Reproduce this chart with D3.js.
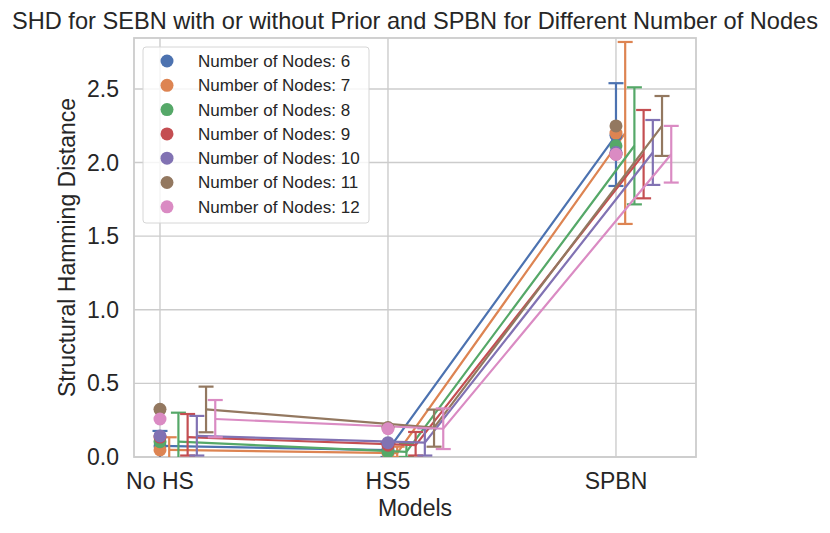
<!DOCTYPE html>
<html>
<head>
<meta charset="utf-8">
<script src="https://cdn.jsdelivr.net/npm/d3@7"></script>
<style>
  body { margin: 0; background: #fff; }
  svg { display: block; font-family: "Liberation Sans", Arial, sans-serif; }
</style>
</head>
<body>
<svg id="chart" width="830" height="533"></svg>
<script>
const categories = ["No HS", "HS5", "SPBN"];
const seriesNames = ["Number of Nodes: 6", "Number of Nodes: 7", "Number of Nodes: 8", "Number of Nodes: 9", "Number of Nodes: 10", "Number of Nodes: 11", "Number of Nodes: 12"];
const colors = ["#4c72b0", "#dd8452", "#55a868", "#c44e52", "#8172b3", "#937860", "#da8bc3"];
// mean SHD per series, per category
const means = [
  [0.075, 0.047, 2.185],
  [0.048, 0.027, 2.200],
  [0.104, 0.035, 2.114],
  [0.135, 0.080, 2.057],
  [0.143, 0.097, 2.068],
  [0.324, 0.200, 2.249],
  [0.258, 0.192, 2.056]
];
const lower = [
  [-0.030, 0.000, 1.841],
  [-0.040, 0.000, 1.583],
  [-0.090, 0.000, 1.716],
  [0.010, 0.010, 1.757],
  [0.010, 0.010, 1.848],
  [0.168, 0.070, 2.045],
  [0.134, 0.054, 1.864]
];
const upper = [
  [0.177, 0.095, 2.539],
  [0.134, 0.070, 2.819],
  [0.301, 0.090, 2.511],
  [0.292, 0.170, 2.357],
  [0.279, 0.195, 2.289],
  [0.478, 0.322, 2.452],
  [0.387, 0.330, 2.249]
];
const yTicks = [0.0, 0.5, 1.0, 1.5, 2.0, 2.5];
const titleText = "SHD for SEBN with or without Prior and SPBN for Different Number of Nodes";
const xLabel = "Models";
const yLabel = "Structural Hamming Distance";

const svg = d3.select("#chart");
const L = 134, R = 696, T = 38, B = 457;
const x = d3.scaleLinear().domain([-0.114, 2.351]).range([L, R]);
const y = d3.scaleLinear().domain([0, 2.846]).range([B, T]);
const dodge = 0.0404; // in category units per series
const textColor = "#262626";
const gridColor = "#cccccc";

svg.append("defs").append("clipPath").attr("id", "clip")
  .append("rect").attr("x", L).attr("y", T).attr("width", R - L).attr("height", B - T);

// grid
const g = svg.append("g");
g.selectAll(".hg").data(yTicks).join("line")
  .attr("x1", L).attr("x2", R).attr("y1", d => y(d)).attr("y2", d => y(d))
  .attr("stroke", gridColor).attr("stroke-width", 1.4);
g.selectAll(".vg").data(categories).join("line")
  .attr("x1", (d, i) => x(i)).attr("x2", (d, i) => x(i)).attr("y1", T).attr("y2", B)
  .attr("stroke", gridColor).attr("stroke-width", 1.4);

// frame
svg.append("rect").attr("x", L).attr("y", T).attr("width", R - L).attr("height", B - T)
  .attr("fill", "none").attr("stroke", gridColor).attr("stroke-width", 1.8);

const plot = svg.append("g").attr("clip-path", "url(#clip)");
const line = d3.line().x(d => x(d.xi)).y(d => y(d.v));
const capW = 7.5;
const lw = 2.2;

seriesNames.forEach((name, s) => {
  const pts = categories.map((c, i) => ({ xi: i + s * dodge, v: means[s][i], lo: lower[s][i], hi: upper[s][i] }));
  plot.append("path").datum(pts).attr("d", line)
    .attr("fill", "none").attr("stroke", colors[s]).attr("stroke-width", lw);
  const eb = plot.append("g");
  eb.selectAll(".v").data(pts).join("line")
    .attr("x1", d => x(d.xi)).attr("x2", d => x(d.xi))
    .attr("y1", d => y(d.lo)).attr("y2", d => y(d.hi))
    .attr("stroke", colors[s]).attr("stroke-width", lw);
  ["lo", "hi"].forEach(k => {
    eb.selectAll(".c" + k).data(pts).join("line")
      .attr("x1", d => x(d.xi) - capW).attr("x2", d => x(d.xi) + capW)
      .attr("y1", d => y(d[k])).attr("y2", d => y(d[k]))
      .attr("stroke", colors[s]).attr("stroke-width", lw);
  });
});

seriesNames.forEach((name, s) => {
  plot.append("g").selectAll("circle").data(categories).join("circle")
    .attr("cx", (d, i) => x(i)).attr("cy", (d, i) => y(means[s][i]))
    .attr("r", 6.5).attr("fill", colors[s]);
});

// axes ticks
svg.append("g").selectAll("text").data(yTicks).join("text")
  .attr("x", L - 15).attr("y", d => y(d)).attr("dy", "0.35em")
  .attr("text-anchor", "end").attr("font-size", 23).attr("fill", textColor)
  .text(d => d.toFixed(1));
svg.append("g").selectAll("text").data(categories).join("text")
  .attr("x", (d, i) => x(i)).attr("y", 489)
  .attr("text-anchor", "middle").attr("font-size", 23).attr("fill", textColor)
  .text(d => d);

svg.append("text").attr("x", (L + R) / 2).attr("y", 516).attr("text-anchor", "middle")
  .attr("font-size", 23).attr("fill", textColor).text(xLabel);
svg.append("text").attr("transform", `translate(75,${(T + B) / 2}) rotate(-90)`)
  .attr("text-anchor", "middle").attr("font-size", 23).attr("fill", textColor).text(yLabel);
svg.append("text").attr("x", 415).attr("y", 29).attr("text-anchor", "middle")
  .attr("font-size", 23.6).attr("fill", textColor).text(titleText);

// legend
const lg = svg.append("g");
lg.append("rect").attr("x", 143).attr("y", 47).attr("width", 226).attr("height", 176)
  .attr("rx", 3).attr("fill", "#ffffff").attr("fill-opacity", 0.8)
  .attr("stroke", "#d6d6d6").attr("stroke-width", 1);
seriesNames.forEach((name, s) => {
  const yy = 61 + s * 24.3;
  lg.append("circle").attr("cx", 167).attr("cy", yy).attr("r", 6.5).attr("fill", colors[s]);
  lg.append("text").attr("x", 198).attr("y", yy).attr("dy", "0.35em")
    .attr("font-size", 17).attr("fill", textColor).text(name);
});
</script>
</body>
</html>
